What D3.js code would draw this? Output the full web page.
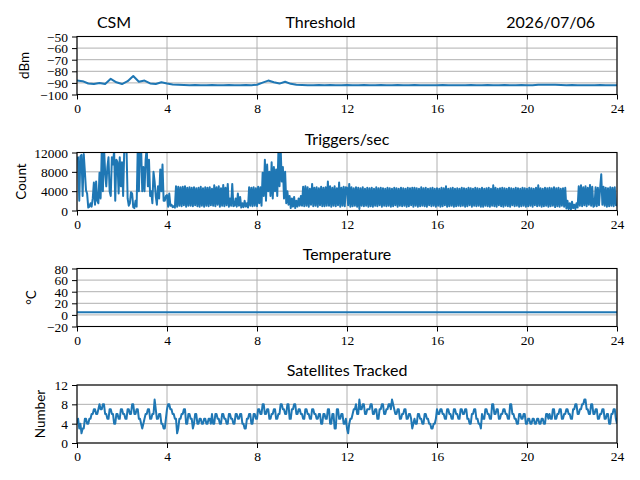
<!doctype html>
<html>
<head>
<meta charset="utf-8">
<style>
    body { margin: 0; background: #fff; }
    svg { display: block; }
    .tick text { font-family: 'Liberation Serif', 'DejaVu Serif', serif; font-size: 13.5px; fill: #000; }
    .tick line { stroke: #000; stroke-width: 1; }
    .domain { display: none; }
    .grid line { stroke: #b0b0b0; stroke-width: 1; }
    .frame { fill: none; stroke: #000; stroke-width: 1.1; }
    .trace { fill: none; stroke: #1f77b4; stroke-width: 2; stroke-linejoin: round; }
    text.title { font-family: Lato, sans-serif; font-size: 16px; fill: #000; }
    text.ylabel { font-family: Lato, sans-serif; font-size: 13.5px; fill: #000; }
</style>
<script src="https://d3js.org/d3.v7.min.js"></script>
</head>
<body>
<svg width="640" height="480"></svg>
<script>
// hours on the x axis
const hourTicks = [0, 4, 8, 12, 16, 20, 24];

// CSM threshold, dBm, one reading every 15 min
const csmStep = 0.25;
const csm = [
    -88, -88.5, -90.5, -91,     -90, -91, -86.5, -89.5,    -91, -88.5, -84, -89,
    -88, -90.5, -91, -89.5,     -90.5, -91.3, -91.6, -91.8, -92, -91.8, -92.1, -92,
    -91.9, -92, -92.1, -91.8,   -92, -92.1, -91.9, -92,    -91.6, -89.8, -88, -89.5,
    -90.6, -89, -90.8, -91.5,   -91.8, -92, -92.1, -91.9,  -92, -91.8, -92, -92.1,
    -91.9, -92, -92, -91.8,     -92, -92.1, -91.9, -92,    -92, -91.9, -92.1, -92,
    -91.8, -92, -92, -92.1,     -92, -91.9, -92, -92,      -92.1, -92, -91.9, -92,
    -92, -91.8, -92, -92.1,     -91.9, -92, -92, -91.9,    -92, -92.1, -91.6, -91.5,
    -91.6, -91.7, -91.8, -92,   -91.9, -92, -92.1, -92,    -92, -91.9, -92, -92.1,
    -92
];
const csmTicks = [-100, -90, -80, -70, -60, -50];

// triggers per second, one reading every 3 min (one row per hour)
const trigStep = 0.05;
const triggers = [
    10500, 11000, 2000, 11200, 11500, 3000, 11700, 8000, 4200, 3500, 600, 800, 1500, 800, 2500, 5800, 1200, 6000, 2000, 1500,
    7800, 2500, 12500, 4000, 13000, 8000, 5000, 9000, 11000, 4000, 3000, 11000, 9500, 12500, 2000, 10500, 10000, 3500, 11000, 5000,
    10000, 3000, 12500, 13000, 13000, 2500, 1000, 1500, 3800, 3500, 700, 500, 2000, 800, 13000, 4000, 12500, 13000, 4000, 9000,
    4000, 10500, 13000, 5000, 10500, 3000, 4000, 1500, 8000, 6000, 3000, 1200, 5000, 2500, 8500, 4000, 9500, 2000, 2000, 3000,
    3200, 800, 3500, 1000, 1200, 700, 900, 600, 5000, 800, 4900, 1000, 4800, 900, 4900, 1100, 5000, 800, 4700, 1000,
    4800, 1000, 4700, 900, 4800, 1100, 4600, 900, 4700, 800, 4900, 1000, 4600, 800, 4800, 1000, 4700, 900, 4800, 1100,
    4500, 1000, 5200, 900, 4800, 1200, 5000, 800, 4600, 1000, 5300, 900, 4700, 1100, 5500, 800, 2500, 1000, 5500, 900,
    1000, 2500, 800, 3500, 1000, 2800, 600, 1500, 700, 2000, 800, 1500, 600, 4800, 1000, 4700, 900, 4800, 1000, 4600,
    900, 4900, 1500, 4800, 1000, 7800, 3000, 10500, 2000, 9500, 4000, 8000, 3000, 10000, 2500, 9000, 4000, 8500, 3000, 12000,
    5000, 13000, 6000, 9000, 2500, 8000, 1500, 4000, 1200, 3000, 500, 2500, 800, 2800, 500, 2000, 800, 2500, 1000, 3000,
    1000, 4900, 900, 5000, 1000, 4800, 800, 4500, 1200, 5500, 900, 4700, 1000, 4800, 800, 4600, 1100, 4900, 900, 4700,
    900, 4800, 1000, 6000, 1000, 5000, 800, 4700, 1000, 5000, 900, 4600, 1100, 5800, 800, 4700, 1000, 4900, 900, 4800,
    4700, 1100, 5500, 800, 4800, 900, 4600, 1000, 4800, 800, 4700, 300, 4600, 1000, 4800, 900, 4500, 1000, 4700, 800,
    4600, 900, 4700, 800, 4500, 1000, 4800, 900, 4600, 1100, 4700, 800, 4600, 1000, 4500, 900, 4700, 1000, 4600, 800,
    4500, 900, 4700, 1100, 4600, 800, 4500, 1000, 4700, 900, 4600, 1000, 4500, 800, 4700, 900, 4600, 1100, 4700, 800,
    4700, 1000, 4600, 800, 4500, 900, 4800, 1000, 4600, 900, 4700, 800, 4500, 1100, 4600, 900, 4700, 1000, 4500, 800,
    4600, 1000, 4500, 800, 4700, 900, 4600, 1100, 5000, 800, 4500, 900, 4600, 1000, 4700, 800, 4500, 900, 4600, 1000,
    4500, 900, 4700, 1000, 4600, 800, 4500, 900, 4700, 1100, 4600, 800, 4500, 1000, 4700, 900, 4600, 1000, 4500, 800,
    4700, 800, 4500, 1000, 4600, 900, 4700, 800, 4500, 1000, 5200, 900, 4700, 800, 4500, 1100, 4600, 900, 4700, 800,
    4600, 1000, 4500, 900, 4700, 800, 4600, 1100, 4500, 900, 4700, 1000, 4600, 800, 4500, 900, 4700, 1000, 4600, 800,
    4500, 900, 4700, 1000, 4600, 800, 4500, 1100, 4700, 900, 5200, 1000, 4600, 800, 4500, 900, 4700, 1000, 4600, 800,
    4700, 900, 4600, 1000, 4800, 700, 4600, 900, 4700, 800, 4500, 1000, 4600, 800, 4700, 400, 2000, 300, 1500, 200,
    1800, 500, 1200, 300, 1500, 600, 5000, 1000, 5200, 900, 4800, 1100, 5000, 900, 4700, 1200, 5300, 1000, 4900, 800,
    1000, 4800, 900, 4700, 1100, 4600, 7500, 1200, 4900, 1000, 4700, 800, 4600, 900, 4800, 1000, 4700, 900, 4800, 1100,
    1000
];
const trigTicks = [0, 4000, 8000, 12000];

// GPS temperature, degC, hourly
const tempStep = 1;
const temperature = [
    4.5, 4.5, 4.5, 4.5, 4.5, 4.5, 4.5, 4.5, 4.5, 4.5, 4.5, 4.5,
    4.5, 4.5, 4.5, 4.5, 4.5, 4.5, 4.5, 4.5, 4.5, 4.5, 4.5, 4.5, 4.5
];
const tempTicks = [-20, 0, 20, 40, 60, 80];

// satellites tracked, one reading every 3 min (one row per hour)
const satStep = 0.05;
const satellites = [
    4, 5, 3, 4, 2, 3, 3, 5, 5, 4, 4, 5, 5, 6, 6, 7, 7, 6, 6, 7,
    8, 7, 7, 8, 8, 6, 6, 5, 5, 7, 7, 6, 6, 4, 4, 6, 6, 5, 5, 7,
    7, 6, 6, 5, 5, 7, 7, 6, 6, 8, 8, 6, 6, 7, 7, 5, 5, 4, 3, 4,
    5, 6, 6, 7, 7, 5, 5, 6, 6, 9, 7, 5, 5, 6, 6, 4, 4, 3, 3, 5,
    7, 8, 8, 7, 7, 6, 6, 5, 5, 2, 3, 5, 5, 6, 6, 7, 7, 4, 4, 6,
    6, 5, 5, 3, 4, 6, 6, 4, 4, 5, 5, 4, 4, 5, 5, 4, 4, 5, 5, 4,
    6, 4, 4, 6, 6, 5, 5, 4, 4, 6, 6, 5, 5, 4, 4, 6, 6, 5, 5, 4,
    4, 6, 6, 5, 5, 6, 6, 4, 4, 3, 3, 5, 5, 6, 6, 4, 4, 6, 6, 5,
    5, 7, 7, 6, 6, 8, 8, 6, 6, 7, 7, 5, 5, 6, 6, 7, 7, 5, 5, 6,
    6, 8, 8, 7, 7, 6, 6, 8, 8, 5, 5, 7, 7, 8, 8, 6, 6, 7, 7, 6,
    6, 5, 5, 7, 7, 6, 6, 5, 5, 7, 7, 6, 6, 5, 5, 6, 6, 4, 4, 6,
    6, 5, 5, 7, 7, 4, 4, 6, 6, 3, 3, 7, 7, 5, 5, 6, 6, 4, 4, 5,
    3, 2, 4, 5, 5, 6, 7, 7, 8, 6, 6, 9, 7, 7, 8, 8, 6, 6, 7, 7,
    7, 8, 8, 6, 6, 7, 7, 5, 5, 7, 7, 8, 8, 6, 6, 7, 7, 8, 8, 7,
    9, 8, 7, 6, 6, 7, 7, 5, 5, 6, 6, 7, 7, 5, 5, 6, 6, 5, 3, 4,
    5, 4, 4, 6, 6, 5, 5, 4, 4, 6, 6, 5, 5, 4, 4, 3, 3, 4, 4, 5,
    7, 6, 6, 7, 7, 6, 6, 5, 5, 7, 7, 6, 6, 5, 5, 7, 7, 6, 6, 5,
    5, 7, 7, 6, 6, 7, 7, 5, 5, 4, 4, 6, 6, 7, 7, 5, 5, 4, 4, 3,
    6, 5, 5, 7, 7, 6, 6, 5, 5, 8, 8, 6, 6, 7, 7, 5, 5, 6, 6, 7,
    7, 6, 6, 5, 5, 8, 8, 6, 6, 5, 5, 4, 4, 6, 6, 5, 5, 6, 6, 4,
    4, 5, 5, 4, 4, 5, 5, 4, 4, 5, 5, 4, 4, 5, 5, 4, 4, 6, 6, 5,
    6, 5, 5, 7, 7, 5, 5, 6, 6, 7, 7, 5, 5, 6, 6, 7, 7, 6, 6, 5,
    5, 7, 7, 8, 8, 6, 6, 7, 7, 8, 8, 9, 9, 7, 7, 6, 6, 8, 8, 6,
    6, 7, 7, 5, 5, 6, 6, 7, 7, 5, 5, 6, 6, 4, 4, 6, 6, 7, 7, 5,
    4
];
const satTicks = [0, 4, 8, 12];

const svg = d3.select('svg');

const left = 77;
const right = 617;
const panelHeight = 58;

const xScale = d3.scaleLinear()
    .domain([0, 24])
    .range([left, right]);

const panels = [
    { top: 36.5, values: csm, step: csmStep, ticks: csmTicks, label: 'dBm', labelX: 24 },
    { top: 152.5, values: triggers, step: trigStep, ticks: trigTicks, label: 'Count', labelX: 21 },
    { top: 268.5, values: temperature, step: tempStep, ticks: tempTicks, label: '°C', labelX: 31 },
    { top: 385, values: satellites, step: satStep, ticks: satTicks, label: 'Number', labelX: 40 }
];

const minus = (d) => d3.format('d')(d).replace('-', '\u2212');
const tickFont = "'Liberation Serif', 'DejaVu Serif', serif";

panels.forEach((p, idx) => {
    const bottom = p.top + panelHeight;
    const yScale = d3.scaleLinear()
        .domain(d3.extent(p.ticks))
        .range([bottom, p.top]);

    const g = svg.append('g');

    g.append('clipPath')
        .attr('id', `clip${idx}`)
        .append('rect')
        .attr('x', left)
        .attr('y', p.top)
        .attr('width', right - left)
        .attr('height', panelHeight);

    // grid
    g.append('g')
        .attr('class', 'grid')
        .selectAll('line')
        .data(hourTicks)
        .join('line')
        .attr('x1', (d) => xScale(d))
        .attr('x2', (d) => xScale(d))
        .attr('y1', p.top)
        .attr('y2', bottom);

    g.append('g')
        .attr('class', 'grid')
        .selectAll('line')
        .data(p.ticks)
        .join('line')
        .attr('x1', left)
        .attr('x2', right)
        .attr('y1', (d) => yScale(d))
        .attr('y2', (d) => yScale(d));

    const line = d3.line()
        .x((d, i) => xScale(i * p.step))
        .y((d) => yScale(d));

    g.append('path')
        .datum(p.values)
        .attr('class', 'trace')
        .attr('clip-path', `url(#clip${idx})`)
        .attr('d', line);

    g.append('rect')
        .attr('class', 'frame')
        .attr('x', left)
        .attr('y', p.top)
        .attr('width', right - left)
        .attr('height', panelHeight);

    g.append('g')
        .attr('transform', `translate(0, ${bottom})`)
        .attr('font-family', tickFont)
        .call(d3.axisBottom(xScale)
            .tickValues(hourTicks)
            .tickFormat(d3.format('d'))
            .tickSize(5)
            .tickPadding(3.5))
        .selectAll('text')
        .attr('font-family', tickFont);

    g.append('g')
        .attr('transform', `translate(${left}, 0)`)
        .call(d3.axisLeft(yScale)
            .tickValues(p.ticks)
            .tickFormat(minus)
            .tickSize(5)
            .tickPadding(4))
        .selectAll('text')
        .attr('font-family', tickFont)
        .attr('dy', '0.34em');

    svg.append('text')
        .attr('class', 'ylabel')
        .attr('transform', `translate(${p.labelX}, ${p.top + panelHeight / 2}) rotate(-90)`)
        .attr('text-anchor', 'middle')
        .attr('dy', '0.35em')
        .text(p.label);
});

const titles = [
    { text: 'CSM', x: 114, y: 28, anchor: 'middle' },
    { text: 'Threshold', x: 320.5, y: 28, anchor: 'middle' },
    { text: '2026/07/06', x: 595, y: 28, anchor: 'end' },
    { text: 'Triggers/sec', x: 347, y: 144.5, anchor: 'middle' },
    { text: 'Temperature', x: 347, y: 259.5, anchor: 'middle' },
    { text: 'Satellites Tracked', x: 347, y: 376, anchor: 'middle' }
];

svg.selectAll('text.title')
    .data(titles)
    .join('text')
    .attr('class', 'title')
    .attr('x', (d) => d.x)
    .attr('y', (d) => d.y)
    .attr('text-anchor', (d) => d.anchor)
    .text((d) => d.text);
</script>
</body>
</html>
